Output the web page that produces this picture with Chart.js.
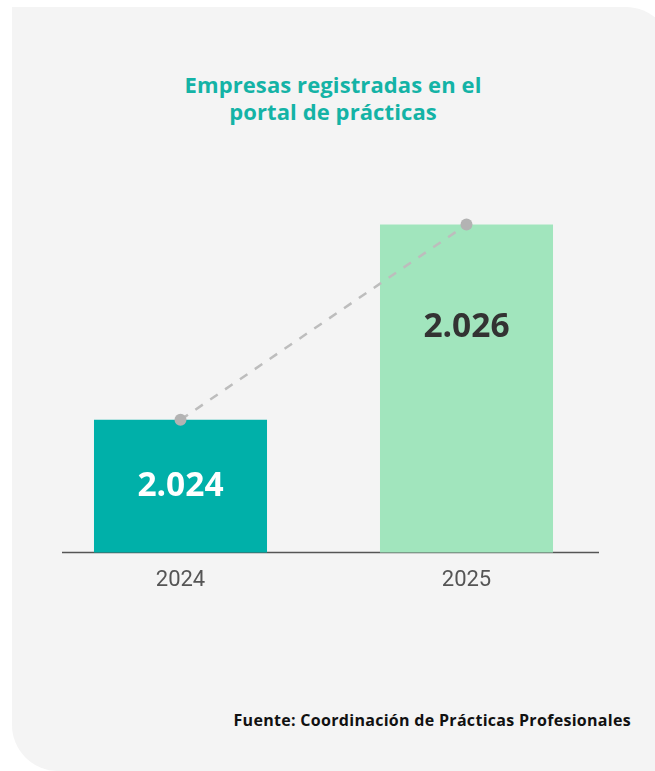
<!DOCTYPE html>
<html>
<head>
<meta charset="utf-8">
<script src="https://cdn.jsdelivr.net/npm/chart.js@4.4.1/dist/chart.umd.min.js"></script>
<style>
  html, body { margin: 0; padding: 0; background: #ffffff; }
  #wrap { position: relative; width: 655px; height: 771px; overflow: hidden; }
  #card { position: absolute; left: 12px; top: 7px; width: 660px; height: 764px;
          background: #f4f4f4; border-radius: 0 46px 0 46px; }
  #title { position: absolute; left: 0; width: 666px; top: 71px; text-align: center;
           font-family: "Open Sans", sans-serif; font-weight: 700; font-size: 22px;
           line-height: 27px; color: #14b3a6; letter-spacing: 0.1px; }
  #source { position: absolute; right: 24px; top: 709px;
            font-family: "Open Sans", sans-serif; font-weight: 700; font-size: 16px;
            color: #111; letter-spacing: 0.3px; }
  #cv { position: absolute; left: 0; top: 0; }
</style>
</head>
<body>
<div id="wrap">
  <div id="card"></div>
  <div id="title">Empresas registradas en el<br>portal de prácticas</div>
  <div id="source">Fuente: Coordinación de Prácticas Profesionales</div>
  <canvas id="cv" width="655" height="771"></canvas>
</div>
<script>
const categories = ["2024", "2025"];
const values = [2024, 2026];
const valueLabels = ["2.024", "2.026"];
const barColors = ["#00b0a9", "#a1e5bd"];
const labelColors = ["#ffffff", "#333333"];

const labelPlugin = {
  id: "barLabels",
  afterDraw(chart) {
    const ctx = chart.ctx;
    const xs = chart.scales.x;
    const ys = chart.scales.y;
    const bottom = chart.chartArea.bottom;
    const fracs = [0.5, 0.313];
    ctx.save();
    ctx.font = "bold 33.5px 'Open Sans', sans-serif";
    ctx.textAlign = "center";
    ctx.textBaseline = "middle";
    for (let i = 0; i < values.length; i++) {
      const x = xs.getPixelForValue(i);
      const top = ys.getPixelForValue(values[i]);
      const y = top + (bottom - top) * fracs[i];
      ctx.fillStyle = labelColors[i];
      ctx.fillText(valueLabels[i], x, y);
    }
    ctx.restore();
  },
  beforeDatasetsDraw(chart) {
    const ctx = chart.ctx;
    const a = chart.chartArea;
    ctx.save();
    ctx.strokeStyle = "#555555";
    ctx.lineWidth = 1.5;
    ctx.beginPath();
    ctx.moveTo(a.left + 24.5, a.bottom);
    ctx.lineTo(a.right - 10.5, a.bottom);
    ctx.stroke();
    ctx.restore();
  }
};

new Chart(document.getElementById("cv"), {
  data: {
    labels: categories,
    datasets: [
      {
        type: "line",
        data: values,
        borderColor: "#bdbdbd",
        borderWidth: 2.5,
        borderDash: [9, 9],
        pointRadius: 6,
        pointBackgroundColor: "#b3b3b3",
        pointBorderWidth: 0,
        order: 0
      },
      {
        type: "bar",
        data: values,
        backgroundColor: barColors,
        categoryPercentage: 1,
        barPercentage: 0.605,
        order: 1
      }
    ]
  },
  options: {
    responsive: false,
    animation: false,
    layout: { padding: { left: 37.5, right: 45.5, top: 127, bottom: 162 } },
    plugins: { legend: { display: false }, tooltip: { enabled: false }, title: { display: false } },
    scales: {
      x: {
        grid: { display: false, drawTicks: false },
        border: { display: false },
        ticks: { padding: 15, color: "#555555", font: { family: "Roboto, sans-serif", size: 22 } }
      },
      y: {
        display: false,
        min: 2022.64,
        max: 2027
      }
    }
  },
  plugins: [labelPlugin]
});
</script>
</body>
</html>
